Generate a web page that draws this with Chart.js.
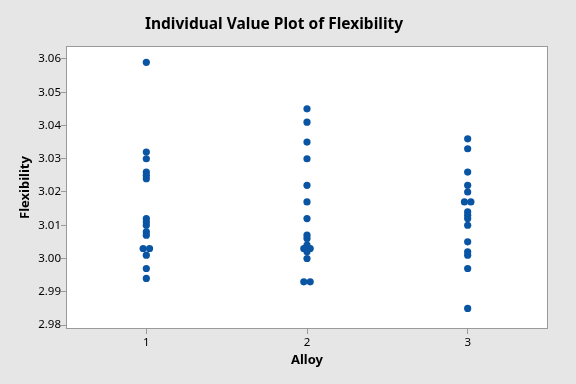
<!DOCTYPE html>
<html>
<head>
<meta charset="utf-8">
<script src="https://cdn.jsdelivr.net/npm/chart.js@4"></script>
<style>
  html, body { margin: 0; padding: 0; background: #e6e6e6; }
  #wrap { width: 576px; height: 384px; }
</style>
</head>
<body>
<div id="wrap"><canvas id="chart" width="576" height="384"></canvas></div>
<script>
const alloys = ['1', '2', '3'];
const alloy1 = [3.059, 3.032, 3.030, 3.026, 3.025, 3.024, 3.012, 3.011, 3.010, 3.008, 3.007, 3.003, 3.003, 3.001, 2.997, 2.994];
const alloy2 = [3.045, 3.041, 3.035, 3.030, 3.022, 3.017, 3.012, 3.007, 3.006, 3.004, 3.003, 3.003, 3.002, 3.000, 2.993, 2.993];
const alloy3 = [3.036, 3.033, 3.026, 3.022, 3.020, 3.017, 3.017, 3.014, 3.013, 3.012, 3.010, 3.005, 3.002, 3.001, 2.997, 2.985];
const yTicks = [2.98, 2.99, 3.00, 3.01, 3.02, 3.03, 3.04, 3.05, 3.06];

// equal values in a group are placed side by side
function toPoints(values, pos) {
    const seen = {};
    values.forEach(function (v) { const k = v.toFixed(3); seen[k] = (seen[k] || 0) + 1; });
    const used = {};
    return values.map(function (v) {
        const k = v.toFixed(3);
        const n = seen[k];
        const i = used[k] || 0;
        used[k] = i + 1;
        return { x: pos + (i - (n - 1) / 2) * 0.04, y: v };
    });
}

const points = []
    .concat(toPoints(alloy1, 1))
    .concat(toPoints(alloy2, 2))
    .concat(toPoints(alloy3, 3));

const frame = {
    id: 'frame',
    beforeDraw(chart) {
        const ctx = chart.ctx;
        const a = chart.chartArea;
        ctx.save();
        ctx.fillStyle = '#e6e6e6';
        ctx.fillRect(0, 0, chart.width, chart.height);
        ctx.fillStyle = '#ffffff';
        ctx.fillRect(a.left, a.top, a.right - a.left, a.bottom - a.top);
        ctx.restore();
    },
    afterDraw(chart) {
        const ctx = chart.ctx;
        const a = chart.chartArea;
        ctx.save();
        ctx.strokeStyle = '#9a9a9a';
        ctx.lineWidth = 1;
        ctx.strokeRect(a.left + 0.5, a.top + 0.5, a.right - a.left - 1, a.bottom - a.top - 1);
        ctx.restore();
    }
};

const font = "'Noto Sans', 'Open Sans', sans-serif";

new Chart(document.getElementById('chart').getContext('2d'), {
    type: 'scatter',
    data: {
        datasets: [{
            label: 'Flexibility',
            data: points,
            backgroundColor: '#0a55a3',
            borderColor: '#0a55a3',
            pointRadius: 3.6,
            pointHoverRadius: 3.6,
            borderWidth: 0
        }]
    },
    options: {
        responsive: false,
        animation: false,
        layout: { padding: { left: 0, right: 28, top: 0, bottom: 0 } },
        plugins: {
            legend: { display: false },
            tooltip: { enabled: false },
            title: {
                display: true,
                text: 'Individual Value Plot of Flexibility',
                color: '#000',
                font: { family: font, size: 15.5, weight: 'bold', lineHeight: 1.2 },
                padding: { top: 15, bottom: 12.4 }
            }
        },
        scales: {
            x: {
                type: 'linear',
                min: 0.5,
                max: 3.5,
                afterBuildTicks(axis) { axis.ticks = alloys.map(function (a, i) { return { value: i + 1 }; }); },
                afterFit(axis) { axis.height = 55; },
                ticks: {
                    color: '#000',
                    font: { family: font, size: 11.5 },
                    padding: 2,
                    callback: function (v) { return alloys[Math.round(v) - 1]; }
                },
                grid: { drawOnChartArea: false, drawTicks: true, tickLength: 5, color: '#9a9a9a' },
                border: { display: false },
                title: {
                    display: true,
                    text: 'Alloy',
                    color: '#000',
                    font: { family: font, size: 13, weight: 'bold' },
                    padding: { top: 0, bottom: 16 }
                }
            },
            y: {
                min: 2.9788,
                max: 3.0639,
                afterBuildTicks(axis) { axis.ticks = yTicks.map(function (v) { return { value: v }; }); },
                afterFit(axis) { axis.width = 66; },
                ticks: {
                    color: '#000',
                    font: { family: font, size: 11.5 },
                    padding: 0,
                    callback: function (v) { return v.toFixed(2); }
                },
                grid: { drawOnChartArea: false, drawTicks: true, tickLength: 5, color: '#9a9a9a' },
                border: { display: false },
                title: {
                    display: true,
                    text: 'Flexibility',
                    color: '#000',
                    font: { family: font, size: 13, weight: 'bold' },
                    padding: { top: 17, bottom: 0 }
                }
            }
        }
    },
    plugins: [frame]
});
</script>
</body>
</html>
